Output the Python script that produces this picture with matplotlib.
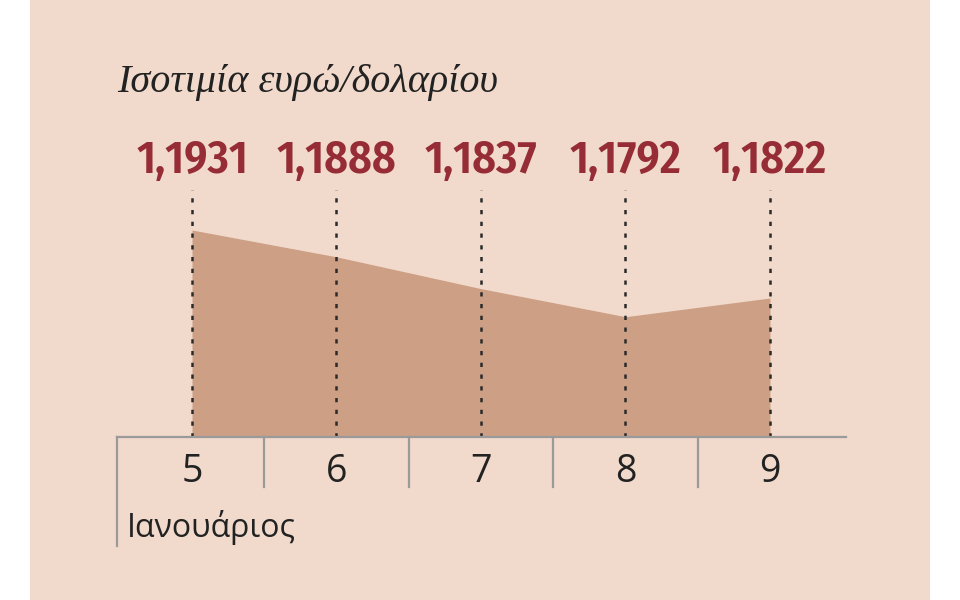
import matplotlib
matplotlib.use("Agg")
import matplotlib.pyplot as plt
from matplotlib.patches import Rectangle
from matplotlib.transforms import blended_transform_factory
from matplotlib import font_manager as fm

# ---- data ----
days = [5, 6, 7, 8, 9]
rates = [1.1931, 1.1888, 1.1837, 1.1792, 1.1822]
rate_labels = ["1,1931", "1,1888", "1,1837", "1,1792", "1,1822"]
day_labels = ["5", "6", "7", "8", "9"]
title = "Ισοτιμία ευρώ/δολαρίου"
month = "Ιανουάριος"

W, H = 960, 600
PANEL = "#f1dacb"
AREA = "#cd9f85"
RED = "#962c35"
DARK = "#222222"
GREY = "#9a9a9a"

# find a condensed bold face if available
cond_file = None
for f in fm.findSystemFonts():
    low = f.lower()
    if ("narrow" in low or "condensed" in low) and "bold" in low and "oblique" not in low and "italic" not in low:
        if cond_file is None or "liberationsansnarrow" in low.replace("-", ""):
            cond_file = f

fig = plt.figure(figsize=(9.6, 6.0), dpi=100, facecolor="white")
fig.patches.append(Rectangle((30 / W, 0), 900 / W, 1, transform=fig.transFigure,
                             facecolor=PANEL, edgecolor="none", zorder=-5))

def fx(px):
    return px / W

def fy(py):
    return 1 - py / H

ax_left, ax_right, ax_top, ax_bot = 117, 846, 190, 437
ax = fig.add_axes([fx(ax_left), fy(ax_bot), (ax_right - ax_left) / W, (ax_bot - ax_top) / H])
ax.set_zorder(1)
ax.set_facecolor("none")
xmin, xmax = 4.481, 9.526
ymin, ymax = 1.15992, 1.19951
ax.set_xlim(xmin, xmax)
ax.set_ylim(ymin, ymax)

ax.fill_between(days, rates, ymin, color=AREA, linewidth=0, zorder=1)

for d in days:
    ax.plot([d, d], [ymin, ymax], color="#2a2a2a", lw=1.8,
            dashes=(1.7, 3.0), zorder=2, clip_on=False)

for s in ax.spines.values():
    s.set_visible(False)
ax.set_xticks([])
ax.set_yticks([])

# baseline
ax.plot([0, 1], [0, 0], transform=ax.transAxes, color=GREY, lw=1.6, clip_on=False, zorder=3)

# separators
axh = ax_bot - ax_top
xt = ax.get_xaxis_transform()
ax.plot([xmin, xmin], [0, -(546 - ax_bot) / axh], transform=xt, color=GREY, lw=1.6, clip_on=False)
for sx in [5.5, 6.5, 7.5, 8.5]:
    ax.plot([sx, sx], [0, -(487 - ax_bot) / axh], transform=xt, color=GREY, lw=1.6, clip_on=False)

bt = blended_transform_factory(ax.transData, fig.transFigure)
for d, lab in zip(days, day_labels):
    fig.text(d, fy(482), lab, transform=bt, ha="center", va="baseline",
             fontsize=27, color=DARK, family=["Open Sans", "DejaVu Sans"])

if cond_file:
    vprops = dict(fontproperties=fm.FontProperties(fname=cond_file, size=33))
else:
    vprops = dict(fontsize=27, fontweight="bold", family=["DejaVu Sans"])
for d, lab in zip(days, rate_labels):
    fig.text(d, fy(173), lab, transform=bt, ha="center", va="baseline",
             color=RED, **vprops)

fig.text(fx(117), fy(92), title, ha="left", va="baseline", fontsize=29,
         style="italic", color=DARK, family=["Liberation Serif", "DejaVu Serif"])

fig.text(fx(127), fy(537), month, ha="left", va="baseline", fontsize=23,
         color=DARK, family=["Open Sans", "DejaVu Sans"])

fig.savefig("out.png", dpi=100, facecolor="white")
